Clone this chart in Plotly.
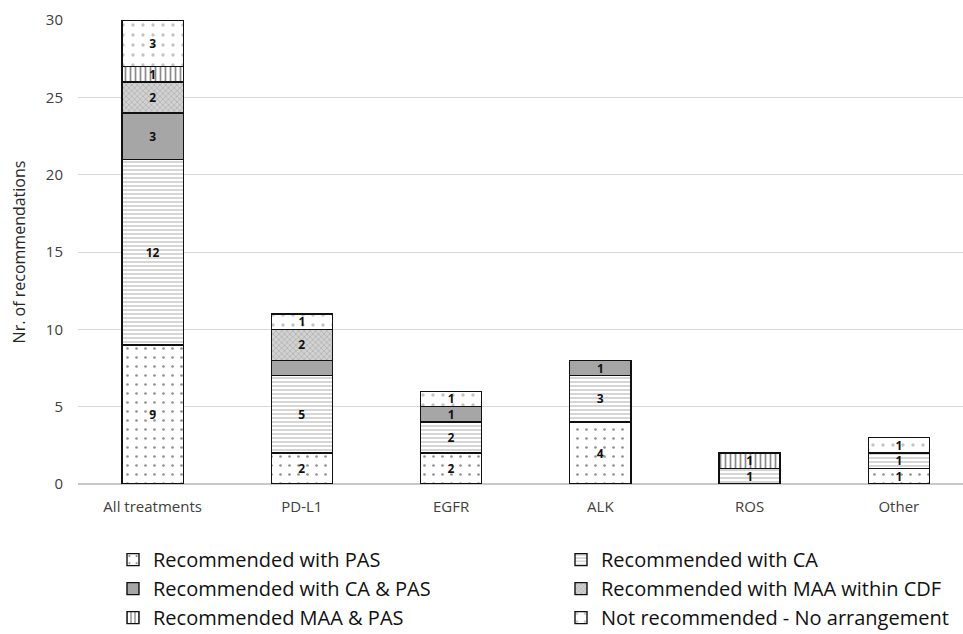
import plotly.graph_objects as go

# Recommendation outcomes per treatment group
categories = ["All treatments", "PD-L1", "EGFR", "ALK", "ROS", "Other"]

rec_pas = [9, 2, 2, 4, 0, 1]
rec_ca = [12, 5, 2, 3, 1, 1]
rec_ca_pas = [3, 1, 1, 1, 0, 0]
rec_maa_cdf = [2, 2, 0, 0, 0, 0]
rec_maa_pas = [1, 0, 0, 0, 1, 0]
not_rec = [3, 1, 1, 0, 0, 1]

series_names = [
    "Recommended with PAS",
    "Recommended with CA",
    "Recommended with CA & PAS",
    "Recommended with MAA within CDF",
    "Recommended MAA & PAS",
    "Not recommended - No arrangement",
]

# segment labels that are not printed on the bar (series index, category index)
hidden_labels = {(2, 1)}

FONT = "Open Sans"
W, H = 963, 634
PLOT_LEFT = 78

styles = [
    dict(shape=".", bgcolor="white", fgcolor="#222222", size=9, solidity=0.07),
    dict(shape="-", bgcolor="white", fgcolor="#8a8a8a", size=4, solidity=0.35),
    dict(shape="", bgcolor="#a6a6a6", fgcolor="#a6a6a6"),
    dict(shape="x", bgcolor="#d2d2d2", fgcolor="#8c8c8c", size=4, solidity=0.35),
    dict(shape="|", bgcolor="white", fgcolor="#1a1a1a", size=5, solidity=0.35),
    dict(shape=".", bgcolor="white", fgcolor="#8a8a8a", size=10, solidity=0.09),
]

series_values = [rec_pas, rec_ca, rec_ca_pas, rec_maa_cdf, rec_maa_pas, not_rec]

fig = go.Figure()
for si, (name, vals, st) in enumerate(zip(series_names, series_values, styles)):
    y = [v if v > 0 else None for v in vals]
    text = [
        "" if (v == 0 or (si, ci) in hidden_labels) else str(v)
        for ci, v in enumerate(vals)
    ]
    marker = dict(line=dict(color="#111111", width=1.4), color=st["bgcolor"])
    if st["shape"]:
        marker["pattern"] = dict(
            shape=st["shape"], bgcolor=st["bgcolor"], fgcolor=st["fgcolor"],
            size=st["size"], solidity=st["solidity"], fillmode="overlay",
        )
    fig.add_trace(go.Bar(
        x=categories, y=y, name=name, marker=marker, width=0.41,
        text=text, texttemplate="%{text}", textposition="inside",
        insidetextanchor="middle", textangle=0, constraintext="none",
        textfont=dict(family=FONT, size=12, color="#111111", weight="bold"),
        hoverinfo="skip",
    ))

fig.update_layout(
    width=W, height=H,
    margin=dict(l=0, r=0, t=20, b=150, autoexpand=False),
    barmode="stack",
    plot_bgcolor="white", paper_bgcolor="white",
    font=dict(family=FONT, color="#404040"),
    xaxis=dict(
        domain=[PLOT_LEFT / W, 1],
        range=[-0.5, 5.43], showgrid=False, showline=False, ticks="",
        ticklabelstandoff=12,
        tickfont=dict(size=15, color="#404040"),
    ),
    yaxis=dict(
        range=[0, 30], tickvals=[0, 5, 10, 15, 20, 25, 30],
        showgrid=True, gridcolor="#d9d9d9", gridwidth=1.2,
        zeroline=True, zerolinecolor="#c8c8c8", zerolinewidth=1.5,
        ticks="", ticklabelstandoff=14,
        tickfont=dict(size=15, color="#404040"),
        title=dict(text="Nr. of recommendations", standoff=16,
                   font=dict(size=16, color="#262626")),
    ),
    legend=dict(
        orientation="h", x=113 / W, y=-0.121, xanchor="left", yanchor="top",
        entrywidth=403, entrywidthmode="pixels", traceorder="normal",
        font=dict(size=20, color="#111111"), itemclick=False,
    ),
    showlegend=True,
)

fig.write_html("out.html")
